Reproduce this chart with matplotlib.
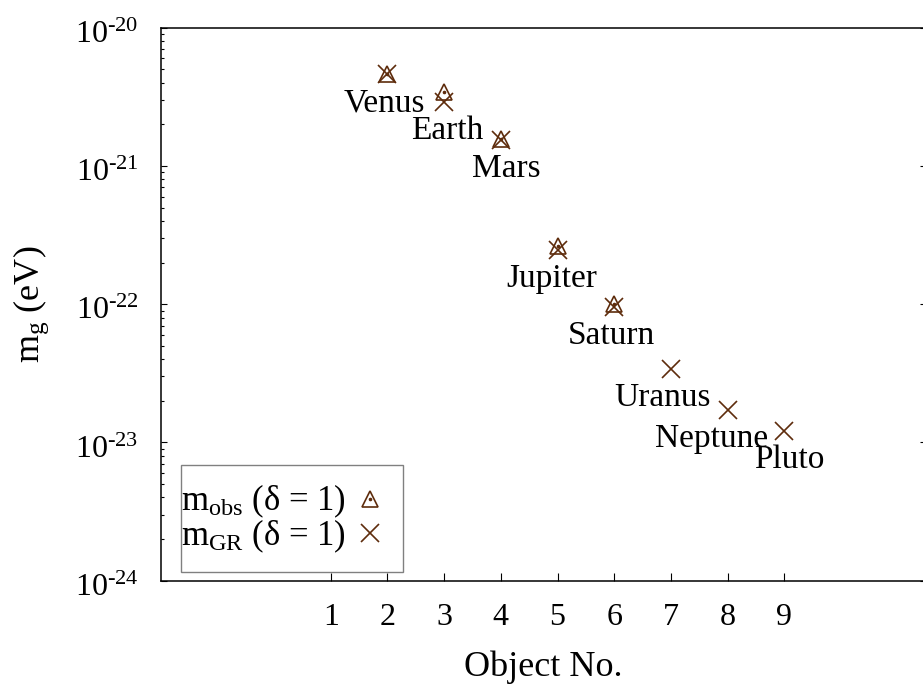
import numpy as np
import matplotlib
matplotlib.use("Agg")
import matplotlib.pyplot as plt
from matplotlib.patches import Rectangle
from matplotlib.transforms import ScaledTranslation
from matplotlib.legend_handler import HandlerTuple
from matplotlib.ticker import FixedLocator, LogLocator, NullFormatter, FuncFormatter

plt.rcParams['font.family'] = ['Liberation Serif', 'DejaVu Serif']
plt.rcParams['mathtext.fontset'] = 'custom'
plt.rcParams['mathtext.rm'] = 'Liberation Serif'
plt.rcParams['mathtext.it'] = 'Liberation Serif:italic'
plt.rcParams['font.size'] = 23

# data
planets = ['Venus', 'Earth', 'Mars', 'Jupiter', 'Saturn', 'Uranus', 'Neptune', 'Pluto']
obj_no = [2, 3, 4, 5, 6, 7, 8, 9]
m_obs = [4.6e-21, 3.4e-21, 1.57e-21, 2.65e-22, 1.0e-22]      # objects 2..6
m_gr = [4.6e-21, 2.9e-21, 1.53e-21, 2.45e-22, 9.5e-23, 3.4e-23, 1.72e-23, 1.21e-23]
xticks = [1, 2, 3, 4, 5, 6, 7, 8, 9]
yticks = [1e-24, 1e-23, 1e-22, 1e-21, 1e-20]

# label offsets (pixels) from each point
label_dx = [-3, 3, 5, -6, -3, -8, -16, 5]
label_dy = -37

brown = '#5e2c0c'
HYPHEN = '\u2010'

fig = plt.figure(figsize=(9.23, 6.86), dpi=100)
W, H = 923, 686
left, right, top, bottom = 160.7, 926, 27.7, 580.7
ax = fig.add_axes([left / W, 1 - bottom / H, (right - left) / W, (bottom - top) / H])

def px2ax(x, y):
    return (x - left) / (right - left), (bottom - y) / (bottom - top)

tri, = ax.plot(obj_no[:len(m_obs)], m_obs, linestyle='none', marker='^', markersize=12,
               markerfacecolor='none', markeredgecolor=brown, markeredgewidth=1.2)
dot, = ax.plot(obj_no[:len(m_obs)], m_obs, linestyle='none', marker='o', markersize=1.6,
               color=brown)
crs, = ax.plot(obj_no, m_gr, linestyle='none', marker='x', markersize=12.5,
               markeredgecolor=brown, markeredgewidth=1.2)

for name, xv, yv, dx in zip(planets, obj_no, m_gr, label_dx):
    ax.annotate(name, (xv, yv), xytext=(dx, label_dy), textcoords='offset pixels',
                ha='center', va='baseline', fontsize=24)

ax.set_yscale('log')
ax.set_ylim(1e-24, 1e-20)
ax.set_xlim(-2, 11.5)

ax.xaxis.set_major_locator(FixedLocator(xticks))
ax.yaxis.set_major_locator(FixedLocator(yticks))
ax.yaxis.set_minor_locator(LogLocator(base=10, subs=np.arange(2, 10), numticks=10))
ax.yaxis.set_minor_formatter(NullFormatter())
ax.yaxis.set_major_formatter(FuncFormatter(
    lambda v, p: '10$^{\\mathrm{' + HYPHEN + '%d}}$' % round(-np.log10(v))))

ax.tick_params(axis='x', which='major', direction='in', length=5.8, width=0.8,
               pad=16.4, top=False, labelsize=23)
ax.tick_params(axis='y', which='major', direction='in', length=4.3, width=0.8,
               pad=16, right=True, labelsize=23)
ax.tick_params(axis='y', which='minor', direction='in', length=2.5, width=0.8,
               right=False)
for s in ax.spines.values():
    s.set_linewidth(1.1)

ax.set_xlabel('Object No.', fontsize=26)
ax.xaxis.set_label_coords(0.5, -0.127)
ax.set_ylabel(r'm$_{\mathrm{g}}$ (eV)', fontsize=26)
ax.yaxis.set_label_coords(-0.143, 0.5)

# legend: text flush with the box's left edge, so the frame is drawn separately
leg = ax.legend([(tri, dot), crs],
                [r'm$_{\mathrm{obs}}$ (δ = 1)', r'm$_{\mathrm{GR}}$ (δ = 1)'],
                handler_map={tuple: HandlerTuple(ndivide=1)},
                loc='upper left', bbox_to_anchor=px2ax(181, 483),
                markerfirst=False, frameon=False, fontsize=25,
                handlelength=0.8, handletextpad=0.3, borderpad=0,
                labelspacing=-0.08, borderaxespad=0)
x0, y0 = px2ax(180.7, 571.7)
x1, y1 = px2ax(402.7, 465)
ax.add_patch(Rectangle((x0, y0), x1 - x0, y1 - y0, transform=ax.transAxes,
                       facecolor='none', edgecolor='#808080', linewidth=1.0, zorder=5))

# gnuplot centres the "10" on the tick, so nudge the y tick labels down a bit
fig.canvas.draw()
shift = ScaledTranslation(0, -4 / 100, fig.dpi_scale_trans)
for lab in ax.get_yticklabels():
    lab.set_transform(lab.get_transform() + shift)

fig.savefig('out.png', dpi=100)
